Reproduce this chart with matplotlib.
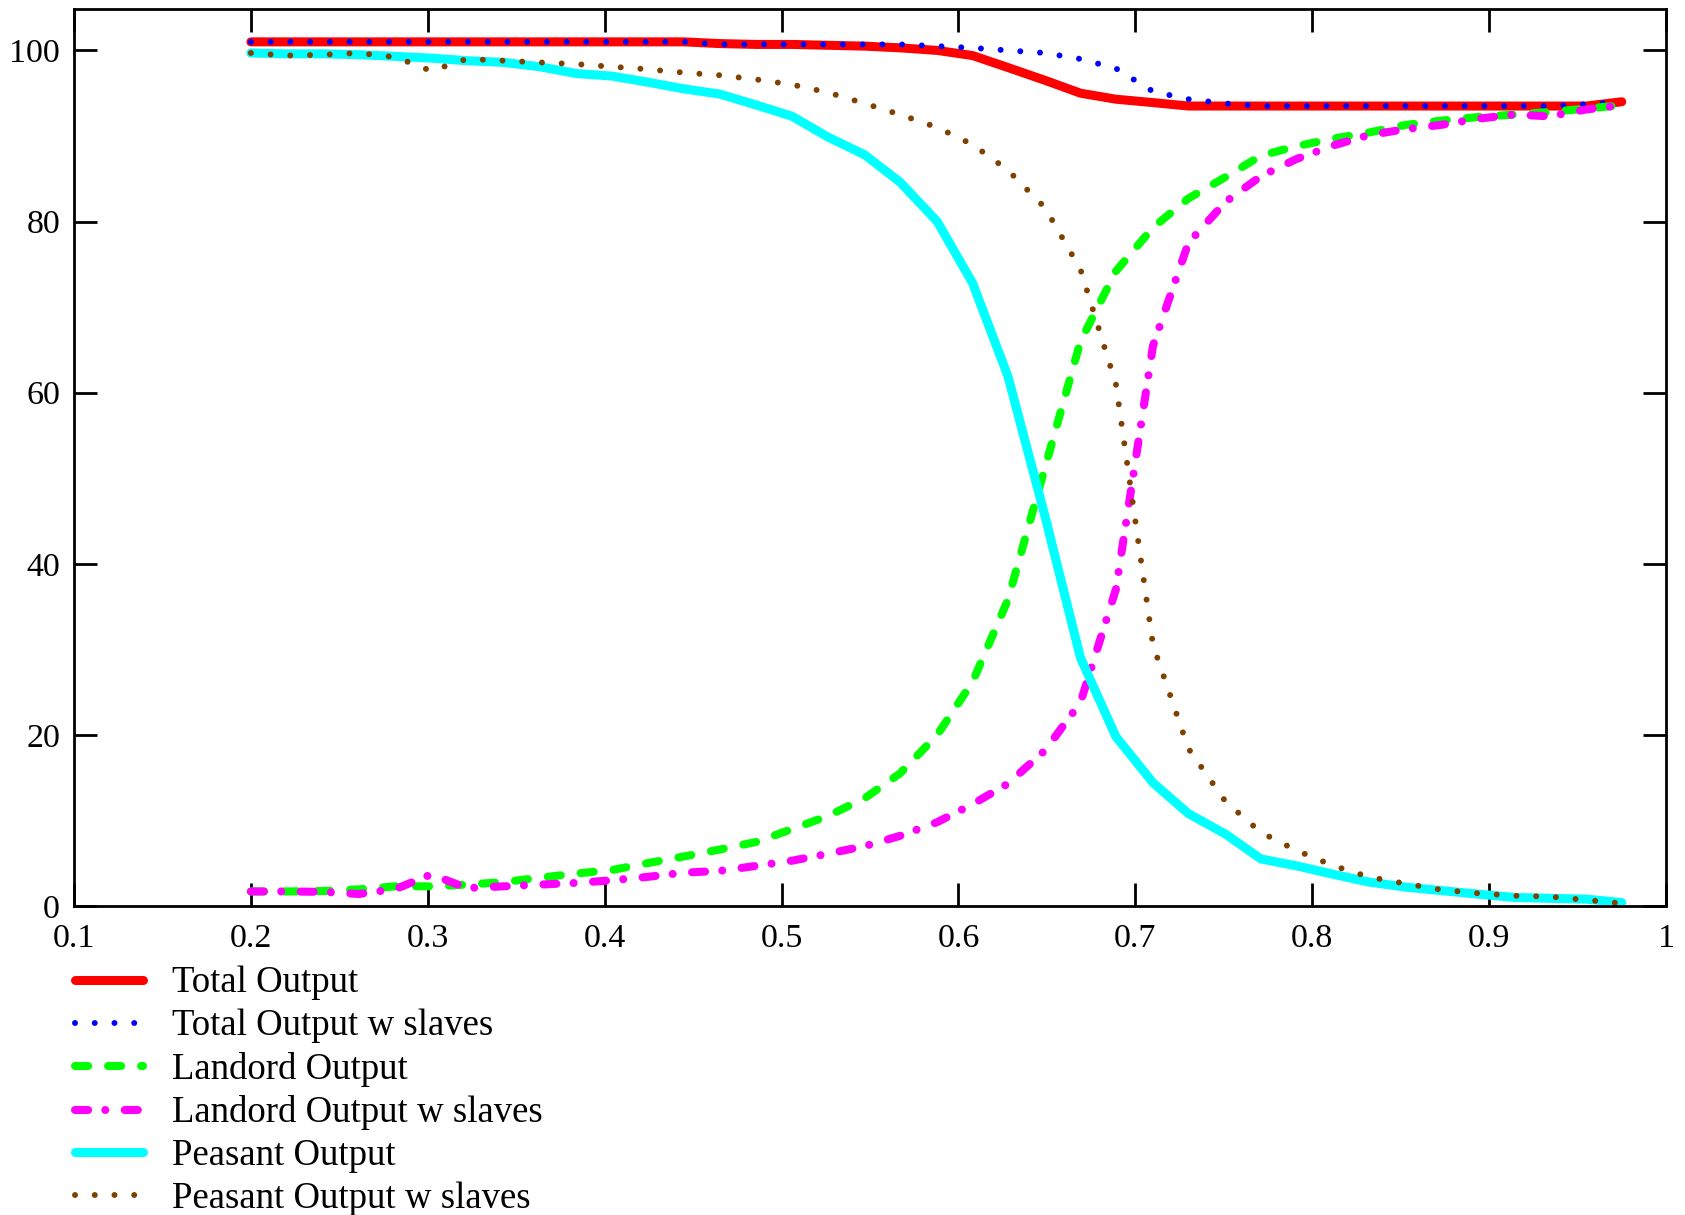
import matplotlib
matplotlib.use('Agg')
import matplotlib.pyplot as plt

plt.rcParams['font.family'] = ['Liberation Serif', 'DejaVu Serif']
plt.rcParams['lines.scale_dashes'] = False

# ---------------- data ----------------
x = [0.200, 0.220, 0.241, 0.261, 0.282, 0.302, 0.322, 0.343, 0.363, 0.384,
     0.404, 0.424, 0.445, 0.465, 0.486, 0.506, 0.526, 0.547, 0.567, 0.588,
     0.608, 0.628, 0.649, 0.669, 0.689, 0.710, 0.730, 0.751, 0.771, 0.791,
     0.812, 0.832, 0.853, 0.873, 0.893, 0.914, 0.934, 0.955, 0.975]

total_output = [101.0, 101.0, 101.0, 101.0, 101.0, 101.0, 101.0, 101.0, 101.0, 101.0,
                101.0, 101.0, 101.0, 100.8, 100.7, 100.7, 100.6, 100.5, 100.3, 100.0,
                99.4, 98.0, 96.5, 95.0, 94.3, 93.9, 93.5, 93.5, 93.5, 93.5,
                93.5, 93.5, 93.5, 93.5, 93.5, 93.5, 93.5, 93.5, 94.0]

total_output_slaves = [101.0, 101.0, 101.0, 101.0, 101.0, 101.0, 101.0, 101.0, 101.0, 101.0,
                       101.0, 101.0, 101.0, 100.7, 100.7, 100.7, 100.7, 100.7, 100.7, 100.5,
                       100.3, 100.0, 99.7, 99.0, 97.9, 95.2, 94.3, 93.8, 93.5, 93.5,
                       93.5, 93.5, 93.5, 93.5, 93.5, 93.5, 93.5, 93.7, 94.0]

landlord_output = [1.7, 1.7, 1.75, 1.95, 2.3, 2.3, 2.5, 2.8, 3.3, 3.8,
                   4.2, 5.0, 5.8, 6.6, 7.5, 9.0, 10.5, 12.6, 15.5, 20.0,
                   26.2, 35.8, 51.3, 66.0, 74.2, 79.3, 82.7, 85.2, 87.7, 88.8,
                   89.7, 90.4, 91.3, 91.8, 92.2, 92.5, 92.8, 93.2, 93.6]

landlord_output_slaves = [1.7, 1.7, 1.65, 1.4, 2.0, 3.7, 2.1, 2.3, 2.5, 2.7,
                          3.0, 3.4, 3.9, 4.1, 4.7, 5.3, 6.1, 7.0, 8.2, 9.8,
                          11.9, 14.3, 18.2, 23.8, 37.0, 65.5, 77.5, 82.3, 85.3, 87.3,
                          88.9, 90.1, 90.8, 91.3, 92.0, 92.5, 92.3, 93.1, 93.6]

peasant_output = [99.7, 99.6, 99.6, 99.5, 99.3, 99.1, 98.8, 98.6, 98.1, 97.3,
                  97.0, 96.3, 95.5, 94.9, 93.6, 92.3, 89.9, 87.8, 84.6, 80.0,
                  72.8, 61.9, 45.5, 29.0, 19.8, 14.4, 10.8, 8.4, 5.5, 4.7,
                  3.7, 2.8, 2.2, 1.8, 1.4, 1.0, 0.9, 0.8, 0.4]

peasant_output_slaves = [99.7, 99.4, 99.5, 99.7, 99.2, 97.6, 99.0, 98.8, 98.6, 98.4,
                         98.1, 97.8, 97.4, 97.1, 96.6, 96.0, 95.1, 93.8, 92.5, 91.0,
                         89.0, 86.0, 81.6, 74.4, 61.0, 30.5, 18.4, 12.2, 8.6, 6.5,
                         4.7, 3.4, 2.6, 1.9, 1.5, 1.2, 1.1, 0.7, 0.3]

labels = ["Total Output", "Total Output w slaves", "Landord Output",
          "Landord Output w slaves", "Peasant Output", "Peasant Output w slaves"]

xticks = [0.1, 0.2, 0.3, 0.4, 0.5, 0.6, 0.7, 0.8, 0.9, 1.0]
xticklabels = ["0.1", "0.2", "0.3", "0.4", "0.5", "0.6", "0.7", "0.8", "0.9", "1"]
yticks = [0, 20, 40, 60, 80, 100]
yticklabels = ["0", "20", "40", "60", "80", "100"]

# ---------------- figure ----------------
W, H = 1685, 1215
fig = plt.figure(figsize=(W / 100, H / 100), dpi=100)
ax = fig.add_axes([74 / W, 1 - 906 / H, (1666 - 74) / W, (906 - 8.5) / H])

h = []
h += ax.plot(x, total_output, color='#ff0000', lw=6.5, solid_capstyle='round',
             solid_joinstyle='round', label=labels[0])
h += ax.plot(x, total_output_slaves, color='#0000ff', lw=4.3,
             linestyle=(0, (0.01, 14.2)), dash_capstyle='round', label=labels[1])
h += ax.plot(x, landlord_output, color='#00ff00', lw=5.8,
             linestyle=(0, (9.4, 14.4)), dash_capstyle='round',
             dash_joinstyle='round', label=labels[2])
h += ax.plot(x, landlord_output_slaves, color='#ff00ff', lw=5.8,
             linestyle=(0, (9.4, 12.4, 0.01, 14.0)), dash_capstyle='round',
             dash_joinstyle='round', label=labels[3])
h += ax.plot(x, peasant_output, color='#00ffff', lw=6.5, solid_capstyle='round',
             solid_joinstyle='round', label=labels[4])
h += ax.plot(x, peasant_output_slaves, color='#804000', lw=4.3,
             linestyle=(0, (0.01, 14.2)), dash_capstyle='round', label=labels[5])

ax.set_xlim(0.1, 1.0)
ax.set_ylim(0, 104.9)
ax.set_xticks(xticks)
ax.set_xticklabels(xticklabels)
ax.set_yticks(yticks)
ax.set_yticklabels(yticklabels)
ax.tick_params(direction='in', length=16.5, width=2, top=True, right=True,
               labelsize=24.5, colors='black')
ax.tick_params(axis='x', pad=12.5)
ax.tick_params(axis='y', pad=10)
for s in ax.spines.values():
    s.set_linewidth(2)

fig.legend(h, labels, loc='upper left', bbox_to_anchor=(75 / W, 1 - 966 / H),
           frameon=False, fontsize=26.5, handlelength=1.85, handletextpad=0.79,
           labelspacing=0.23, borderpad=0, borderaxespad=0)

fig.savefig('out.png', dpi=100)
